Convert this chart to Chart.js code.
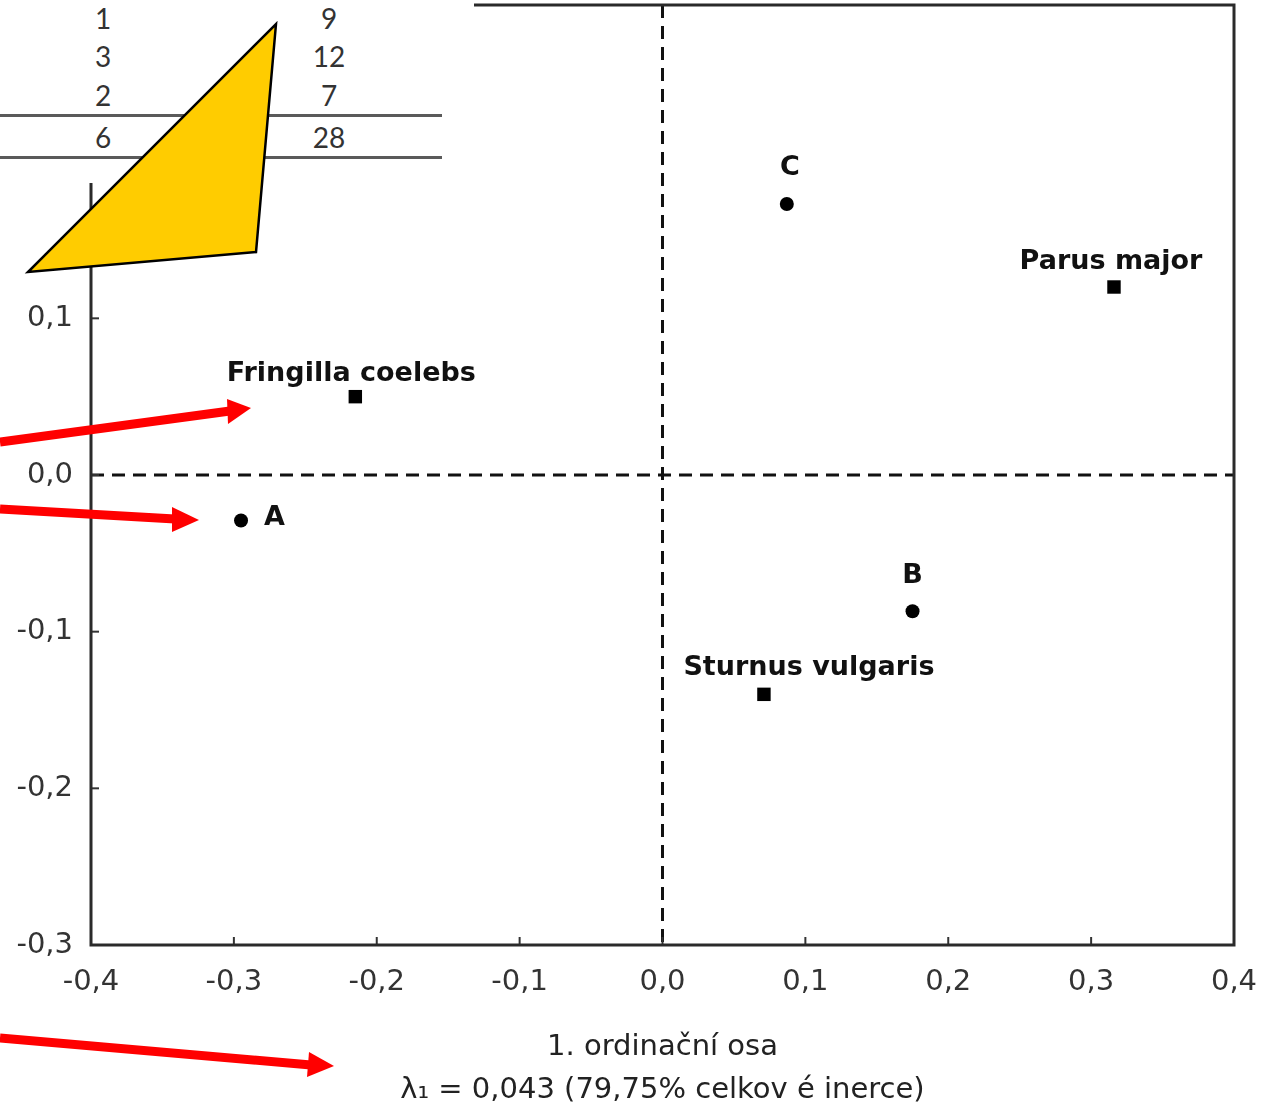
<!DOCTYPE html>
<html>
<head>
<meta charset="utf-8">
<script src="https://cdn.jsdelivr.net/npm/chart.js@4/dist/chart.umd.min.js"></script>
<style>
  html, body { margin: 0; padding: 0; background: #fff; }
  #wrap { position: relative; width: 1272px; height: 1106px; overflow: hidden; }
  #plot { position: absolute; left: 0; top: 0; }
  #table { position: absolute; left: 0; top: 0; width: 474px; height: 183px; background: #fff;
           font-family: Lato, "Open Sans", sans-serif; font-size: 28px; color: #333; }
  .cell { position: absolute; transform: translate(-50%, -50%); line-height: 1; }
  .rule { position: absolute; left: 0; width: 442px; height: 3px; background: #5a5a5a; }
  #marks { position: absolute; left: 0; top: 0; }
</style>
</head>
<body>
<div id="wrap">
  <canvas id="plot" width="1272" height="1106"></canvas>
  <div id="table"></div>
  <svg id="marks" width="1272" height="1106">
    <polygon points="276,24 256,252 28,272" fill="#ffcc00" stroke="#000" stroke-width="2.5" stroke-linejoin="miter"/>
    <line x1="0" y1="442" x2="230" y2="411" stroke="#ff0000" stroke-width="9"/>
    <polygon points="227,399 251,408 228,424" fill="#ff0000"/>
    <line x1="0" y1="509" x2="175" y2="519" stroke="#ff0000" stroke-width="9"/>
    <polygon points="172,507 199,520 172,532" fill="#ff0000"/>
    <line x1="0" y1="1038" x2="311" y2="1065" stroke="#ff0000" stroke-width="9"/>
    <polygon points="309,1052 334,1066 307,1077" fill="#ff0000"/>
  </svg>
</div>
<script>
// sites (circles)
const siteNames = ["A", "B", "C"];
const siteX = [-0.295, 0.175, 0.087];
const siteY = [-0.029, -0.087, 0.173];

// species (squares)
const speciesNames = ["Fringilla coelebs", "Parus major", "Sturnus vulgaris"];
const speciesX = [-0.215, 0.316, 0.071];
const speciesY = [0.050, 0.120, -0.140];

// axis
const xTitle = ["1. ordinační osa", "λ₁ = 0,043 (79,75% celkov é inerce)"];

// table fragment in the corner
const tableCol1 = ["1", "3", "2"];
const tableCol2 = ["9", "12", "7"];
const tableTotals = ["6", "28"];

// label placement relative to the point (pixels)
const siteLabelPos = [
  { dx: 23, dy: -2, align: "left" },
  { dx: 0, dy: -35, align: "center" },
  { dx: 3, dy: -36, align: "center" },
];
const speciesLabelPos = [
  { dx: -4, dy: -23, align: "center" },
  { dx: -3, dy: -25, align: "center" },
  { dx: 45, dy: -26, align: "center" },
];

const FONT = "'DejaVu Sans', 'Liberation Sans', Arial, sans-serif";

// build the table overlay
const table = document.getElementById("table");
const colX = [103, 329];
const rowY = [18, 56, 95];
function addCell(text, x, y) {
  const d = document.createElement("div");
  d.className = "cell";
  d.style.left = x + "px";
  d.style.top = y + "px";
  d.textContent = text;
  table.appendChild(d);
}
tableCol1.forEach((v, i) => addCell(v, colX[0], rowY[i]));
tableCol2.forEach((v, i) => addCell(v, colX[1], rowY[i]));
tableTotals.forEach((v, i) => addCell(v, colX[i], 137));
[115, 157].forEach((top) => {
  const r = document.createElement("div");
  r.className = "rule";
  r.style.top = top - 1 + "px";
  table.appendChild(r);
});

const fmt = (v) => (Math.abs(v) < 1e-9 ? "0,0" : v.toFixed(1).replace(".", ","));

const decor = {
  id: "decor",
  beforeDatasetsDraw(chart) {
    const { ctx, chartArea: a, scales } = chart;
    const x = scales.x, y = scales.y;
    ctx.save();
    // dashed zero lines
    ctx.strokeStyle = "#111";
    ctx.lineWidth = 3;
    ctx.setLineDash([13, 8]);
    const x0 = x.getPixelForValue(0);
    const y0 = y.getPixelForValue(0);
    ctx.beginPath();
    ctx.moveTo(x0, a.top);
    ctx.lineTo(x0, a.bottom);
    ctx.stroke();
    ctx.beginPath();
    ctx.moveTo(a.left, y0);
    ctx.lineTo(a.right, y0);
    ctx.stroke();
    ctx.setLineDash([]);

    // inward tick marks
    ctx.strokeStyle = "#333";
    ctx.lineWidth = 2;
    x.ticks.forEach((t) => {
      const px = x.getPixelForValue(t.value);
      ctx.beginPath();
      ctx.moveTo(px, a.bottom);
      ctx.lineTo(px, a.bottom - 8);
      ctx.stroke();
    });
    y.ticks.forEach((t) => {
      const py = y.getPixelForValue(t.value);
      ctx.beginPath();
      ctx.moveTo(a.left, py);
      ctx.lineTo(a.left + 8, py);
      ctx.stroke();
    });

    // frame
    ctx.strokeStyle = "#2a2a2a";
    ctx.lineWidth = 3;
    ctx.strokeRect(a.left, a.top, a.right - a.left, a.bottom - a.top);
    ctx.restore();
  },
  afterDatasetsDraw(chart) {
    const { ctx } = chart;
    ctx.save();
    ctx.font = "bold 27px " + FONT;
    ctx.fillStyle = "#111";
    ctx.textBaseline = "middle";
    const groups = [
      [0, siteNames, siteLabelPos],
      [1, speciesNames, speciesLabelPos],
    ];
    for (const [idx, names, pos] of groups) {
      const meta = chart.getDatasetMeta(idx);
      meta.data.forEach((pt, i) => {
        ctx.textAlign = pos[i].align;
        ctx.fillText(names[i], pt.x + pos[i].dx, pt.y + pos[i].dy);
      });
    }
    ctx.restore();
  },
};

const ctx = document.getElementById("plot").getContext("2d");

new Chart(ctx, {
  type: "scatter",
  data: {
    datasets: [
      {
        label: "Lokality",
        data: siteX.map((v, i) => ({ x: v, y: siteY[i] })),
        pointStyle: "circle",
        pointRadius: 7,
        backgroundColor: "#000",
        borderColor: "#000",
        borderWidth: 0,
      },
      {
        label: "Druhy",
        data: speciesX.map((v, i) => ({ x: v, y: speciesY[i] })),
        pointStyle: "rect",
        pointRadius: 9.5,
        backgroundColor: "#000",
        borderColor: "#000",
        borderWidth: 0,
      },
    ],
  },
  options: {
    responsive: false,
    animation: false,
    devicePixelRatio: 1,
    layout: { autoPadding: false, padding: { left: 0, top: 5, right: 38, bottom: 0 } },
    plugins: {
      legend: { display: false },
      tooltip: { enabled: false },
    },
    scales: {
      x: {
        type: "linear",
        min: -0.4,
        max: 0.4,
        grid: { display: false, drawTicks: false },
        border: { display: false },
        ticks: {
          stepSize: 0.1,
          callback: (v) => fmt(v),
          color: "#333",
          padding: 20,
          maxRotation: 0,
          font: { family: FONT, size: 29 },
        },
        title: {
          display: true,
          text: xTitle,
          color: "#222",
          padding: { top: 0, bottom: -6 },
          font: { family: FONT, size: 29, lineHeight: 1.48 },
        },
        afterFit: (s) => {
          s.height = 161;
          s.paddingLeft = 0;
          s.paddingRight = 0;
        },
      },
      y: {
        type: "linear",
        min: -0.3,
        max: 0.3,
        grid: { display: false, drawTicks: false },
        border: { display: false },
        ticks: {
          stepSize: 0.1,
          callback: (v) => fmt(v),
          color: "#333",
          padding: 18,
          font: { family: FONT, size: 29 },
        },
        afterFit: (s) => {
          s.width = 91;
          s.paddingTop = 0;
          s.paddingBottom = 0;
        },
      },
    },
  },
  plugins: [decor],
});
</script>
</body>
</html>
